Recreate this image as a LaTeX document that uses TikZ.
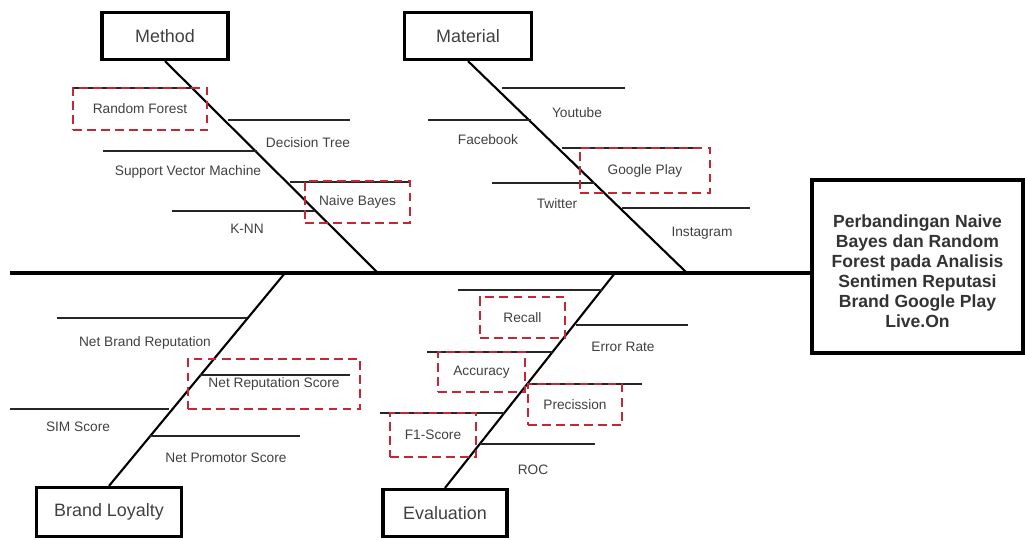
\documentclass[tikz,border=0pt]{standalone}
\usepackage{fontspec}
\setmainfont{Liberation Sans}
\definecolor{pickred}{RGB}{196,40,52}
\definecolor{inkgray}{RGB}{64,64,64}
\tikzset{
    catbox/.style={draw, line width=1.8pt, text=inkgray, font=\fontsize{10.2}{12}\selectfont,
        minimum height=.94cm},
    spine/.style={line width=2pt},
    bone/.style={line width=1.2pt},
    twig/.style={line width=.6pt, draw=black!85},
    cause/.style={text=inkgray, font=\fontsize{7.8}{9}\selectfont, inner sep=1pt},
    pick/.style={cause, draw=pickred, line width=1.3pt, dash pattern=on 5pt off 3pt}
}

\begin{document}
\begin{tikzpicture}[x=.02cm, y=-.02cm]
    \useasboundingbox (0,0) rectangle (1025,539);
    % Heads
    \node[catbox, minimum width=2.52cm] (method) at (165,36) {Method};
    \node[catbox, minimum width=2.54cm] (material) at (468,36) {Material};
    \node[catbox, minimum width=2.9cm, minimum height=.98cm] (loyalty) at (109,512) {Brand Loyalty};
    \node[catbox, minimum width=2.48cm] (evaluation) at (445,513) {Evaluation};
    \node[draw, line width=1.8pt, minimum width=4.22cm, minimum height=3.46cm, align=center,
        font=\fontsize{10}{11.4}\selectfont\bfseries, text=black!80] (effect) at (917.5,266.5)
        {\rule{0pt}{13pt}Perbandingan Naive\\Bayes dan Random\\Forest pada Analisis\\Sentimen Reputasi\\Brand Google Play\\Live.On};
    % Spine and bones
    \coordinate (spineL) at (10,273);
    \coordinate (methodE) at (378,273);
    \coordinate (materialE) at (687,273);
    \coordinate (loyaltyE) at (285,273);
    \coordinate (evaluationE) at (615,273);
    \draw[spine] (spineL) -- (spineL -| effect.west);
    \draw[bone] (method.south) -- (methodE);
    \draw[bone] (material.south) -- (materialE);
    \draw[bone] (loyalty.north) -- (loyaltyE);
    \draw[bone] (evaluation.north) -- (evaluationE);
    % Method
    \draw[twig] (73,88) -- (196,88);
    \draw[twig] (228,120) -- (350,120);
    \draw[twig] (103,151) -- (257,151);
    \draw[twig] (290,182) -- (410,182);
    \draw[twig] (172,211) -- (315,211);
    \node[pick, minimum width=2.68cm, minimum height=.84cm] (rf) at (140,109) {Random Forest};
    \node[cause] (dt) at (308,143) {Decision Tree};
    \node[cause] (svm) at (188,172) {Support Vector Machine};
    \node[pick, minimum width=2.1cm, minimum height=.84cm] (nb) at (357.5,202) {Naive Bayes};
    \node[cause] (knn) at (247,229) {K-NN};
    % Material
    \draw[twig] (502,88) -- (625,88);
    \draw[twig] (428,120) -- (531,120);
    \draw[twig] (562,148) -- (697,148);
    \draw[twig] (492,183) -- (595,183);
    \draw[twig] (622,208) -- (750,208);
    \node[cause] (yt) at (577,113) {Youtube};
    \node[cause] (fb) at (488,140) {Facebook};
    \node[pick, minimum width=2.6cm, minimum height=.9cm] (gp) at (645,170.5) {Google Play};
    \node[cause] (tw) at (557,204) {Twitter};
    \node[cause] (ig) at (702,233) {Instagram};
    % Brand Loyalty
    \draw[twig] (57,318) -- (247,318);
    \draw[twig] (200,375) -- (350,375);
    \draw[twig] (10,409) -- (169,409);
    \draw[twig] (150,436) -- (300,436);
    \node[cause] (nbr) at (145,343) {Net Brand Reputation};
    \node[pick, minimum width=3.44cm, minimum height=1cm] (nrs) at (274,384) {Net Reputation Score};
    \node[cause] (sim) at (78,427) {SIM Score};
    \node[cause] (nps) at (226,458) {Net Promotor Score};
    % Evaluation
    \draw[twig] (458,290) -- (602,290);
    \draw[twig] (576,325) -- (688,325);
    \draw[twig] (427,352) -- (552,352);
    \draw[twig] (527,384) -- (642,384);
    \draw[twig] (380,413) -- (504,413);
    \draw[twig] (480,444) -- (595,444);
    \node[pick, minimum width=1.7cm, minimum height=.82cm] (rec) at (522.5,317.5) {Recall};
    \node[cause] (err) at (623,347) {Error Rate};
    \node[pick, minimum width=1.74cm, minimum height=.8cm] (acc) at (481.5,372) {Accuracy};
    \node[pick, minimum width=1.88cm, minimum height=.82cm] (pre) at (575,404.5) {Precission};
    \node[pick, minimum width=1.72cm, minimum height=.88cm] (f1) at (433,435) {F1-Score};
    \node[cause] (roc) at (533,470) {ROC};
\end{tikzpicture}
\end{document}
